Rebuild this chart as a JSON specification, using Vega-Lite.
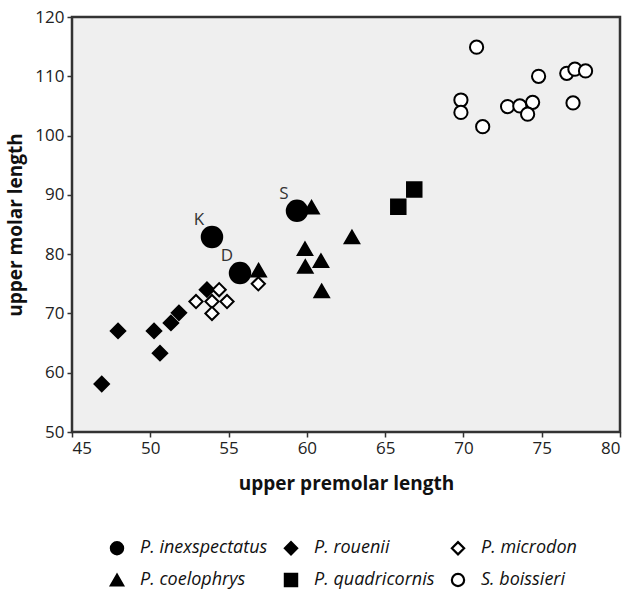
{
  "$schema": "https://vega.github.io/schema/vega-lite/v6.json",
  "width": 548,
  "height": 415,
  "autosize": "none",
  "padding": {"left": 72, "top": 17, "right": 10, "bottom": 159},
  "background": "white",
  "config": {
    "font": "Open Sans",
    "view": {"fill": "#efefef", "stroke": "#333333", "strokeWidth": 2.5},
    "legend": {
      "orient": "none", "legendX": 36, "legendY": 522, "columns": 3, "direction": "horizontal",
      "symbolSize": 150, "symbolStrokeColor": "black", "symbolStrokeWidth": 2.2,
      "labelFontSize": 18, "labelFontStyle": "italic", "labelColor": "#111111",
      "labelOffset": 14, "columnPadding": 12, "rowPadding": 10, "labelLimit": 300
    }
  },
  "data": {
    "values": [
      {"species": "P. inexspectatus", "x": 53.94, "y": 82.9, "label": "K"},
      {"species": "P. inexspectatus", "x": 55.73, "y": 76.8, "label": "D"},
      {"species": "P. inexspectatus", "x": 59.37, "y": 87.3, "label": "S"},
      {"species": "P. rouenii", "x": 46.9, "y": 58.1},
      {"species": "P. rouenii", "x": 47.94, "y": 67.05},
      {"species": "P. rouenii", "x": 50.24, "y": 67.05},
      {"species": "P. rouenii", "x": 50.62, "y": 63.3},
      {"species": "P. rouenii", "x": 51.32, "y": 68.4},
      {"species": "P. rouenii", "x": 51.83, "y": 70.1},
      {"species": "P. rouenii", "x": 53.62, "y": 74.0},
      {"species": "P. microdon", "x": 52.92, "y": 72.0},
      {"species": "P. microdon", "x": 53.94, "y": 72.0},
      {"species": "P. microdon", "x": 53.94, "y": 70.0},
      {"species": "P. microdon", "x": 54.4, "y": 74.0},
      {"species": "P. microdon", "x": 54.9, "y": 72.0},
      {"species": "P. microdon", "x": 56.9, "y": 75.0},
      {"species": "P. coelophrys", "x": 60.3, "y": 87.9},
      {"species": "P. coelophrys", "x": 62.88, "y": 82.9},
      {"species": "P. coelophrys", "x": 59.88, "y": 80.9},
      {"species": "P. coelophrys", "x": 60.9, "y": 78.9},
      {"species": "P. coelophrys", "x": 59.9, "y": 77.9},
      {"species": "P. coelophrys", "x": 60.95, "y": 73.8},
      {"species": "P. coelophrys", "x": 56.92, "y": 77.3},
      {"species": "P. quadricornis", "x": 65.84, "y": 88.0},
      {"species": "P. quadricornis", "x": 66.86, "y": 90.9},
      {"species": "S. boissieri", "x": 70.84, "y": 114.9},
      {"species": "S. boissieri", "x": 69.84, "y": 106.0},
      {"species": "S. boissieri", "x": 69.84, "y": 103.9},
      {"species": "S. boissieri", "x": 71.23, "y": 101.5},
      {"species": "S. boissieri", "x": 72.82, "y": 104.9},
      {"species": "S. boissieri", "x": 73.6, "y": 105.0},
      {"species": "S. boissieri", "x": 74.42, "y": 105.6},
      {"species": "S. boissieri", "x": 74.1, "y": 103.6},
      {"species": "S. boissieri", "x": 74.8, "y": 110.0},
      {"species": "S. boissieri", "x": 76.6, "y": 110.5},
      {"species": "S. boissieri", "x": 77.12, "y": 111.2},
      {"species": "S. boissieri", "x": 77.8, "y": 110.9},
      {"species": "S. boissieri", "x": 77.0, "y": 105.5}
    ]
  },
  "encoding": {
    "x": {
      "field": "x", "type": "quantitative",
      "scale": {"domain": [45, 80], "nice": false, "zero": false},
      "axis": {
        "title": "upper premolar length", "values": [45, 50, 55, 60, 65, 70, 75, 80],
        "grid": false, "domain": false, "tickColor": "#333333", "tickSize": 5, "tickWidth": 1.5,
        "labelFontSize": 17, "labelColor": "#222222", "labelPadding": 3,
        "titleFontSize": 19, "titleFontWeight": "bold", "titleColor": "#111111", "titlePadding": 18
      }
    },
    "y": {
      "field": "y", "type": "quantitative",
      "scale": {"domain": [50, 120], "nice": false, "zero": false},
      "axis": {
        "title": "upper molar length", "values": [50, 60, 70, 80, 90, 100, 110, 120],
        "grid": false, "domain": false, "tickColor": "#333333", "tickSize": 5, "tickWidth": 1.5,
        "labelFontSize": 17, "labelColor": "#222222", "labelPadding": 3,
        "titleFontSize": 19, "titleFontWeight": "bold", "titleColor": "#111111", "titlePadding": 9
      }
    }
  },
  "layer": [
    {
      "mark": {"type": "point", "filled": true, "stroke": "black", "strokeWidth": 2, "opacity": 1},
      "encoding": {
        "shape": {
          "field": "species", "type": "nominal",
          "scale": {
            "domain": ["P. inexspectatus", "P. rouenii", "P. microdon", "P. coelophrys", "P. quadricornis", "S. boissieri"],
            "range": ["circle", "diamond", "diamond", "triangle-up", "square", "circle"]
          },
          "legend": {"title": null}
        },
        "color": {
          "field": "species", "type": "nominal",
          "scale": {
            "domain": ["P. inexspectatus", "P. rouenii", "P. microdon", "P. coelophrys", "P. quadricornis", "S. boissieri"],
            "range": ["black", "black", "white", "black", "black", "white"]
          },
          "legend": {"title": null}
        },
        "size": {
          "condition": [
            {"test": "datum.species === 'P. inexspectatus'", "value": 420},
            {"test": "datum.species === 'S. boissieri' || datum.species === 'P. microdon'", "value": 175}
          ],
          "value": 210
        }
      }
    },
    {
      "transform": [{"filter": "isValid(datum.label)"}],
      "mark": {"type": "text", "fontSize": 17, "fill": "#333333", "dx": -13, "dy": -17, "font": "Open Sans"},
      "encoding": {"text": {"field": "label"}}
    }
  ]
}
